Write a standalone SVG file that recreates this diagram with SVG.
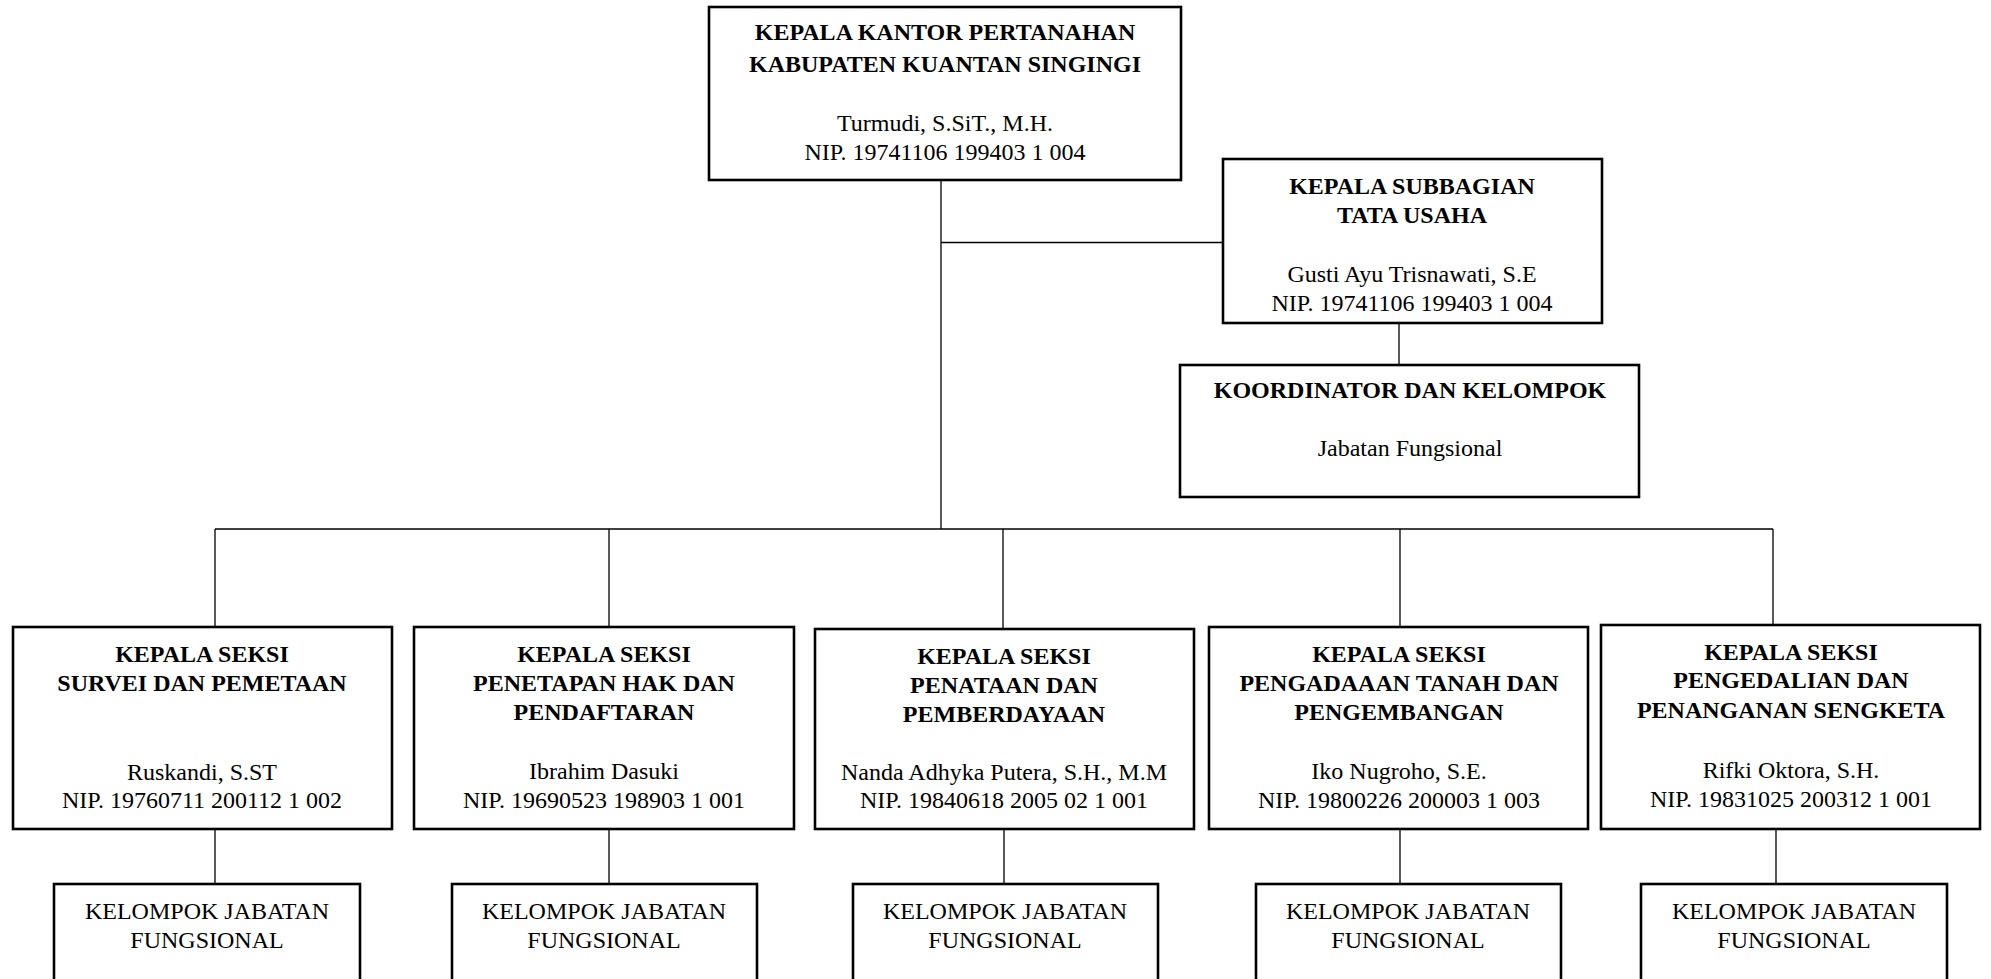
<svg xmlns="http://www.w3.org/2000/svg" width="1991" height="979" viewBox="0 0 1991 979">
<style>
.box{fill:#fff;stroke:#000;stroke-width:2.6}
.ln{stroke:#000;stroke-width:1.3;fill:none}
text{font-family:"Liberation Serif","Times New Roman",serif;font-size:24px;fill:#000;text-anchor:middle}
.b{font-weight:bold}
</style>
<rect width="1991" height="979" fill="#fff"/>
<g id="connectors">
<line class="ln" x1="941" y1="180" x2="941" y2="529"/>
<line class="ln" x1="941" y1="242.5" x2="1223" y2="242.5"/>
<line class="ln" x1="1399" y1="323" x2="1399" y2="365"/>
<line class="ln" x1="215" y1="529" x2="1773" y2="529"/>
<line class="ln" x1="215" y1="529" x2="215" y2="627"/>
<line class="ln" x1="609" y1="529" x2="609" y2="627"/>
<line class="ln" x1="1003" y1="529" x2="1003" y2="629"/>
<line class="ln" x1="1400" y1="529" x2="1400" y2="627"/>
<line class="ln" x1="1773" y1="529" x2="1773" y2="625"/>
<line class="ln" x1="215" y1="829" x2="215" y2="884"/>
<line class="ln" x1="609" y1="829" x2="609" y2="884"/>
<line class="ln" x1="1004" y1="829" x2="1004" y2="884"/>
<line class="ln" x1="1400" y1="829" x2="1400" y2="884"/>
<line class="ln" x1="1776" y1="829" x2="1776" y2="884"/>
</g>
<g id="kepala-kantor">
<rect class="box" x="709" y="7" width="472" height="173"/>
<text class="b" x="945" y="40">KEPALA KANTOR PERTANAHAN</text>
<text class="b" x="945" y="72">KABUPATEN KUANTAN SINGINGI</text>
<text x="945" y="131">Turmudi, S.SiT., M.H.</text>
<text x="945" y="160">NIP. 19741106 199403 1 004</text>
</g>
<g id="subbagian-tu">
<rect class="box" x="1223" y="159" width="379" height="164"/>
<text class="b" x="1412" y="194">KEPALA SUBBAGIAN</text>
<text class="b" x="1412" y="223">TATA USAHA</text>
<text x="1412" y="282">Gusti Ayu Trisnawati, S.E</text>
<text x="1412" y="311">NIP. 19741106 199403 1 004</text>
</g>
<g id="koordinator">
<rect class="box" x="1180" y="365" width="459" height="132"/>
<text class="b" x="1410" y="398">KOORDINATOR DAN KELOMPOK</text>
<text x="1410" y="456">Jabatan Fungsional</text>
</g>
<g id="seksi-survei">
<rect class="box" x="13" y="627" width="379" height="202"/>
<text class="b" x="202" y="662">KEPALA SEKSI</text>
<text class="b" x="202" y="691">SURVEI DAN PEMETAAN</text>
<text x="202" y="780">Ruskandi, S.ST</text>
<text x="202" y="808">NIP. 19760711 200112 1 002</text>
</g>
<g id="seksi-penetapan">
<rect class="box" x="414" y="627" width="380" height="202"/>
<text class="b" x="604" y="662">KEPALA SEKSI</text>
<text class="b" x="604" y="691">PENETAPAN HAK DAN</text>
<text class="b" x="604" y="720">PENDAFTARAN</text>
<text x="604" y="779">Ibrahim Dasuki</text>
<text x="604" y="808">NIP. 19690523 198903 1 001</text>
</g>
<g id="seksi-penataan">
<rect class="box" x="815" y="629" width="379" height="200"/>
<text class="b" x="1004" y="664">KEPALA SEKSI</text>
<text class="b" x="1004" y="693">PENATAAN DAN</text>
<text class="b" x="1004" y="722">PEMBERDAYAAN</text>
<text x="1004" y="780">Nanda Adhyka Putera, S.H., M.M</text>
<text x="1004" y="808">NIP. 19840618 2005 02 1 001</text>
</g>
<g id="seksi-pengadaan">
<rect class="box" x="1209" y="627" width="379" height="202"/>
<text class="b" x="1399" y="662">KEPALA SEKSI</text>
<text class="b" x="1399" y="691">PENGADAAAN TANAH DAN</text>
<text class="b" x="1399" y="720">PENGEMBANGAN</text>
<text x="1399" y="779">Iko Nugroho, S.E.</text>
<text x="1399" y="808">NIP. 19800226 200003 1 003</text>
</g>
<g id="seksi-pengendalian">
<rect class="box" x="1601" y="625" width="379" height="204"/>
<text class="b" x="1791" y="660">KEPALA SEKSI</text>
<text class="b" x="1791" y="688">PENGEDALIAN DAN</text>
<text class="b" x="1791" y="718">PENANGANAN SENGKETA</text>
<text x="1791" y="778">Rifki Oktora, S.H.</text>
<text x="1791" y="807">NIP. 19831025 200312 1 001</text>
</g>
<g id="kjf-1">
<rect class="box" x="54" y="884" width="306" height="110"/>
<text x="207" y="919">KELOMPOK JABATAN</text>
<text x="207" y="948">FUNGSIONAL</text>
</g>
<g id="kjf-2">
<rect class="box" x="452" y="884" width="305" height="110"/>
<text x="604" y="919">KELOMPOK JABATAN</text>
<text x="604" y="948">FUNGSIONAL</text>
</g>
<g id="kjf-3">
<rect class="box" x="853" y="884" width="305" height="110"/>
<text x="1005" y="919">KELOMPOK JABATAN</text>
<text x="1005" y="948">FUNGSIONAL</text>
</g>
<g id="kjf-4">
<rect class="box" x="1256" y="884" width="305" height="110"/>
<text x="1408" y="919">KELOMPOK JABATAN</text>
<text x="1408" y="948">FUNGSIONAL</text>
</g>
<g id="kjf-5">
<rect class="box" x="1641" y="884" width="306" height="110"/>
<text x="1794" y="919">KELOMPOK JABATAN</text>
<text x="1794" y="948">FUNGSIONAL</text>
</g>
</svg>
